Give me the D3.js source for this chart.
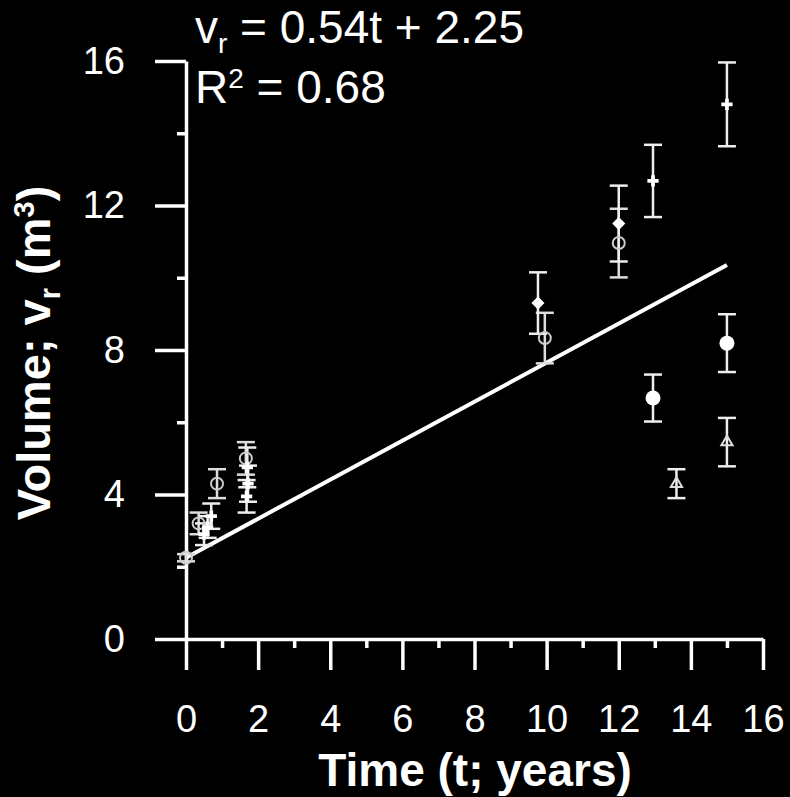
<!DOCTYPE html>
<html>
<head>
<meta charset="utf-8">
<script src="https://cdn.jsdelivr.net/npm/d3@7"></script>
<style>
body { margin: 0; background: #000; }
text { font-family: Arial, "Liberation Sans", sans-serif; fill: #fff; }
</style>
</head>
<body>
<div id="chart"></div>
<script>
// fitted line: v = 0.54t + 2.25
const slope = 0.54, intercept = 2.25, rSquared = 0.68;
const fitRange = [0, 15];

// each series: time (years), volume (m3), error (+/-)
const openCircleT = [0, 0.35, 0.86, 1.66, 9.95, 12.0];
const openCircleV = [2.25, 3.2, 4.3, 5.0, 8.33, 10.96];
const openCircleE = [0.1, 0.3, 0.4, 0.45, 0.7, 0.95];

const diamondT = [9.76, 12.0];
const diamondV = [9.3, 11.5];
const diamondE = [0.85, 1.05];

const plusT = [0.5, 0.7, 0.6, 1.7, 1.72, 1.68, 12.95, 15.0];
const plusV = [2.9, 3.4, 3.1, 4.75, 4.3, 3.95, 12.68, 14.8];
const plusE = [0.3, 0.35, 0.3, 0.55, 0.5, 0.45, 1.0, 1.16];

const dotT = [12.95, 15.0];
const dotV = [6.67, 8.19];
const dotE = [0.65, 0.8];

const triangleT = [13.6, 15.0];
const triangleV = [4.3, 5.45];
const triangleE = [0.4, 0.67];

const xMajor = [0, 2, 4, 6, 8, 10, 12, 14, 16];
const xMinor = [1, 3, 5, 7, 9, 11, 13, 15];
const yMajor = [0, 4, 8, 12, 16];
const yMinor = [2, 6, 10, 14];

const width = 790, height = 797;

let svg = d3.select("#chart").append("svg")
	.attr("width", width)
	.attr("height", height)
	.style("background", "#000");

let x = d3.scaleLinear().domain([0, 16]).range([186, 763]);
let y = d3.scaleLinear().domain([0, 16]).range([639, 61]);

// axes
let xAxis = svg.append("g").attr("transform", "translate(0,639)")
	.call(d3.axisBottom(x).tickValues(xMajor).tickSizeInner(31).tickSizeOuter(0).tickPadding(0));
xAxis.selectAll("text").attr("y", 80).attr("dy", "0.35em").style("font-size", "38px");

svg.append("g").attr("transform", "translate(0,639)")
	.call(d3.axisBottom(x).tickValues(xMinor).tickSize(9).tickFormat(""))
	.select(".domain").remove();

let yAxis = svg.append("g").attr("transform", "translate(186,0)")
	.call(d3.axisLeft(y).tickValues(yMajor).tickSizeInner(31).tickSizeOuter(0).tickPadding(30));
yAxis.selectAll("text").style("font-size", "38px");

svg.append("g").attr("transform", "translate(186,0)")
	.call(d3.axisLeft(y).tickValues(yMinor).tickSize(9).tickFormat(""))
	.select(".domain").remove();

svg.selectAll(".domain, .tick line")
	.attr("stroke", "#fff")
	.attr("stroke-width", 3.5);

// regression line
svg.append("line")
	.attr("x1", x(fitRange[0])).attr("y1", y(slope * fitRange[0] + intercept))
	.attr("x2", x(fitRange[1])).attr("y2", y(slope * fitRange[1] + intercept))
	.attr("stroke", "#fff")
	.attr("stroke-width", 4);

function toPoints(ts, vs, es) {
	return ts.map((t, i) => ({ t: t, v: vs[i], e: es[i] }));
}

function errorBars(data, colour) {
	let g = svg.append("g").attr("stroke", colour).attr("stroke-width", 2.5);
	g.selectAll(".bar").data(data).enter().append("line")
		.attr("x1", d => x(d.t)).attr("x2", d => x(d.t))
		.attr("y1", d => y(d.v - d.e)).attr("y2", d => y(d.v + d.e));
	g.selectAll(".capTop").data(data).enter().append("line")
		.attr("x1", d => x(d.t) - 9).attr("x2", d => x(d.t) + 9)
		.attr("y1", d => y(d.v + d.e)).attr("y2", d => y(d.v + d.e));
	g.selectAll(".capBottom").data(data).enter().append("line")
		.attr("x1", d => x(d.t) - 9).attr("x2", d => x(d.t) + 9)
		.attr("y1", d => y(d.v - d.e)).attr("y2", d => y(d.v - d.e));
}

let openCircles = toPoints(openCircleT, openCircleV, openCircleE);
let diamonds = toPoints(diamondT, diamondV, diamondE);
let pluses = toPoints(plusT, plusV, plusE);
let dots = toPoints(dotT, dotV, dotE);
let triangles = toPoints(triangleT, triangleV, triangleE);

errorBars(openCircles, "#ddd");
errorBars(diamonds, "#eee");
errorBars(pluses, "#eee");
errorBars(dots, "#eee");
errorBars(triangles, "#eee");

// markers
svg.selectAll(".openCircle").data(openCircles).enter().append("circle")
	.attr("cx", d => x(d.t)).attr("cy", d => y(d.v)).attr("r", 6)
	.attr("fill", "none").attr("stroke", "#ccc").attr("stroke-width", 2);

svg.selectAll(".diamond").data(diamonds).enter().append("path")
	.attr("d", d3.symbol().type(d3.symbolDiamond2).size(110))
	.attr("transform", d => `translate(${x(d.t)},${y(d.v)})`)
	.attr("fill", "#fff");

svg.selectAll(".plus").data(pluses).enter().append("path")
	.attr("d", d3.symbol().type(d3.symbolCross).size(70))
	.attr("transform", d => `translate(${x(d.t)},${y(d.v)})`)
	.attr("fill", "#fff");

svg.selectAll(".dot").data(dots).enter().append("circle")
	.attr("cx", d => x(d.t)).attr("cy", d => y(d.v)).attr("r", 7.5)
	.attr("fill", "#fff");

svg.selectAll(".triangle").data(triangles).enter().append("path")
	.attr("d", d3.symbol().type(d3.symbolTriangle2).size(90))
	.attr("transform", d => `translate(${x(d.t)},${y(d.v)})`)
	.attr("fill", "none").attr("stroke", "#ddd").attr("stroke-width", 2);

// equation text
let eq = svg.append("text").attr("x", 195).attr("y", 43).style("font-size", "46px");
eq.append("tspan").text("v");
eq.append("tspan").attr("dy", 10).style("font-size", "28px").text("r");
eq.append("tspan").attr("dy", -10).text(" = " + slope + "t + " + intercept);

let r2 = svg.append("text").attr("x", 195).attr("y", 103).style("font-size", "46px");
r2.append("tspan").text("R");
r2.append("tspan").attr("dy", -15).style("font-size", "28px").text("2");
r2.append("tspan").attr("dy", 15).text(" = " + rSquared);

// axis titles
svg.append("text")
	.attr("x", 475).attr("y", 786)
	.attr("text-anchor", "middle")
	.style("font-size", "46px").style("font-weight", "bold")
	.text("Time (t; years)");

let yt = svg.append("text")
	.attr("transform", "translate(50,353) rotate(-90)")
	.attr("text-anchor", "middle")
	.style("font-size", "47px").style("font-weight", "bold");
yt.append("tspan").text("Volume; v");
yt.append("tspan").attr("dy", 10).style("font-size", "29px").text("r");
yt.append("tspan").attr("dy", -10).text(" (m");
yt.append("tspan").attr("dy", -16).style("font-size", "29px").text("3");
yt.append("tspan").attr("dy", 16).text(")");
</script>
</body>
</html>
